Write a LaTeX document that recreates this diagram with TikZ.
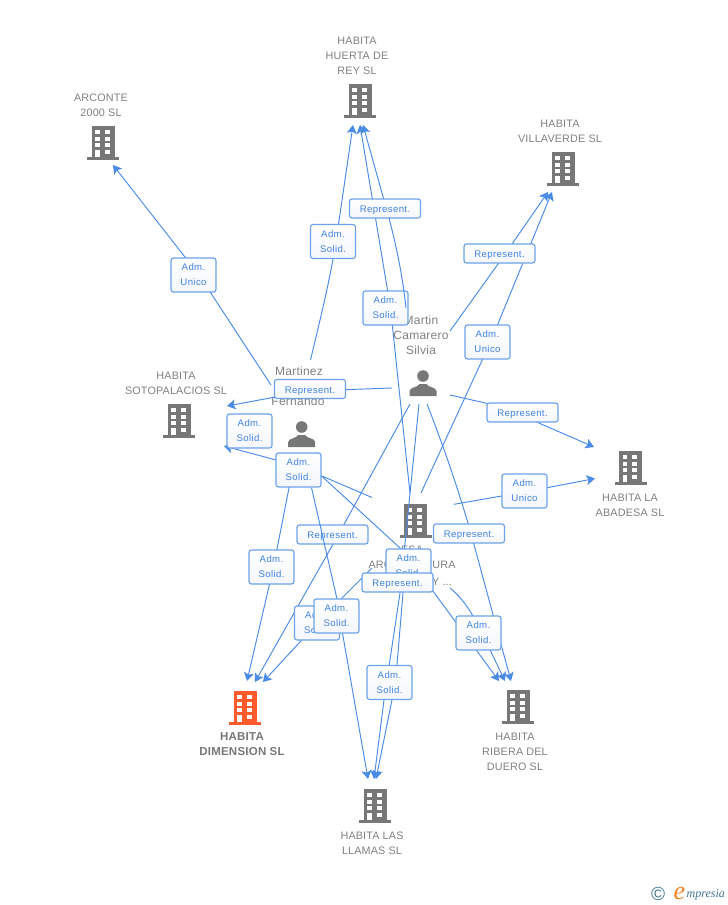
\documentclass[tikz,border=0pt]{standalone}
\usepackage{fontspec}
\usetikzlibrary{arrows.meta}
\setmainfont{Liberation Sans}
\newfontfamily\grf[LetterSpace=1.5]{Liberation Sans}
\newfontfamily\perf[LetterSpace=2]{Liberation Sans}
\newfontfamily\boldf[LetterSpace=2]{Liberation Sans Bold}
\newfontfamily\labf[LetterSpace=4]{Liberation Sans}
\newfontfamily\logof{Liberation Serif Italic}
\definecolor{iconc}{HTML}{777777}
\definecolor{iconhot}{HTML}{FF5A2B}
\definecolor{txtc}{HTML}{808080}
\definecolor{linec}{HTML}{4A8BE6}
\definecolor{boxc}{HTML}{6CA2EA}
\definecolor{boxb}{HTML}{F4F6FA}
\definecolor{labt}{HTML}{3F82E2}
\definecolor{logoc}{HTML}{3F7590}
\definecolor{logoo}{HTML}{F58220}
\pgfdeclarelayer{bg}\pgfdeclarelayer{conn}\pgfdeclarelayer{kline}\pgfdeclarelayer{upper}
\pgfsetlayers{bg,conn,main,kline,upper}
\tikzset{
  x=1pt,y=-1pt,
  pics/building/.style={code={
    \fill[#1] (-11.5,0) rectangle (11.5,31);
    \fill[#1] (-16,31) rectangle (16,33.8);
    \foreach \yy/\hh in {4/4.3,10.7/4.3,17.3/4,24/4}{
      \fill[white] (1.8,\yy) rectangle ++(5,\hh);}
    \foreach \yy/\hh in {4/4.3,10.7/4.3,17.3/4,24/7}{
      \fill[white] (-7.8,\yy) rectangle ++(4.6,\hh);}
  }},
  pics/person/.style={code={
    \fill[iconc] (0,0) circle[radius=5.8];
    \fill[iconc] (-13.5,20) -- (-13.5,15) .. controls (-13,11) and (-5,11.5) .. (-3.5,8)
      -- (3.5,8) .. controls (5,11.5) and (13,11) .. (13.5,15) -- (13.5,20) -- cycle;
  }},
  conn/.style={draw=linec,line width=0.95pt},
  arr/.style={conn,-{Stealth[length=8.5pt,width=10pt,inset=2pt]}},
  lab/.style={draw=boxc,line width=1.2pt,rounded corners=2.5pt,top color=white,bottom color=boxb,
    text=labt,inner sep=0pt,font=\labf\fontsize{9.6}{15}\selectfont,align=center},
  adm/.style={lab,minimum width=45pt,minimum height=34pt},
  rep/.style={lab,minimum width=71pt,minimum height=19pt,text height=8pt,text depth=0pt},
  gtxt/.style={text=txtc,inner sep=0pt,font=\grf\fontsize{10.8}{15}\selectfont,align=center},
  ptxt/.style={text=txtc,inner sep=0pt,font=\perf\fontsize{12}{15}\selectfont,align=center},
}
\begin{document}
\begin{tikzpicture}
\useasboundingbox (0,0) rectangle (728,905);

% icons and names
\begin{pgfonlayer}{bg}
\pic at (245,691) {building=iconhot};
\pic at (103,126) {building=iconc};
\pic at (360,84) {building=iconc};
\pic at (563,152) {building=iconc};
\pic at (179,404) {building=iconc};
\pic at (630.5,451) {building=iconc};
\pic at (415.5,504) {building=iconc};
\pic at (518,690) {building=iconc};
\pic at (375,789) {building=iconc};
\pic at (423,376) {person};
\pic at (301.7,427) {person};
\node[gtxt] (tarc) at (101,105.3) {ARCONTE\\2000 SL};
\node[gtxt] (thue) at (357,55.8) {HABITA\\HUERTA DE\\REY SL};
\node[gtxt] (tvil) at (560,131.3) {HABITA\\VILLAVERDE SL};
\node[gtxt] (tsot) at (176,383.3) {HABITA\\SOTOPALACIOS SL};
\node[gtxt] (taba) at (630,505.3) {HABITA LA\\ABADESA SL};
\node[gtxt] (trib) at (515,751.8) {HABITA\\RIBERA DEL\\DUERO SL};
\node[gtxt] (tlla) at (372,843.3) {HABITA LAS\\LLAMAS SL};
\node[text=iconc,inner sep=0pt,font=\boldf\fontsize{11.5}{15}\selectfont,align=center] (tdim) at (242,744) {HABITA\\DIMENSION SL};
\node[ptxt] (tmar) at (299,371) {Martinez};
\node[ptxt] (tfer) at (298,401) {Fernando};
\node[ptxt] (tsil) at (421,335) {Martin\\Camarero\\Silvia};
\node[gtxt] (tesa) at (412,558) {ESA\\ARQUITECTURA};
\node[gtxt] (tesb) at (442,581.5) {Y ...};
\end{pgfonlayer}

% free ends and arrow tips
\coordinate (aA) at (271,385);  \coordinate (tA) at (113,165);
\coordinate (aB) at (310.5,360);\coordinate (tB) at (353,125);
\coordinate (aC) at (410,493);  \coordinate (tC) at (360,125);
\coordinate (aD) at (406,308);  \coordinate (tD) at (363,125);
\coordinate (aE) at (450,331);  \coordinate (tE) at (548,192);
\coordinate (aF) at (421,493);  \coordinate (tF) at (552,192);
\coordinate (aG) at (392,388);  \coordinate (tG) at (227,406);
\coordinate (aH) at (372,497.5);\coordinate (tH) at (224,446);
\coordinate (tI) at (499,681);
\coordinate (tJ) at (247,681);
\coordinate (tK) at (368,779);
\coordinate (aL) at (410,404);  \coordinate (tL) at (255,682);
\coordinate (aM) at (372,568);  \coordinate (tM) at (263,682);
\coordinate (aN) at (419,404);  \coordinate (tN) at (374,779);
\coordinate (aO) at (405,556);  \coordinate (tO) at (376,779);
\coordinate (aP) at (427,404);  \coordinate (tP) at (511,681);
\coordinate (aQ) at (450,588);  \coordinate (tQ) at (505,681);
\coordinate (aR) at (450,395);  \coordinate (tR) at (594,447);
\coordinate (aS) at (454,504.3);\coordinate (tS) at (595,478.5);
\coordinate (kK) at (337,599);

% relation labels
\node[adm] (l1) at (193.5,275) {Adm.\\Unico};
\node[adm] (l2) at (333,241.5) {Adm.\\Solid.};
\node[rep] (l3) at (385,208.5) {Represent.};
\node[adm] (l4) at (385.5,308) {Adm.\\Solid.};
\node[rep] (l5) at (499.5,253.5) {Represent.};
\node[adm] (l6) at (487.5,342) {Adm.\\Unico};
\node[rep] (l7) at (310,389) {Represent.};
\node[adm] (l8) at (249.5,431) {Adm.\\Solid.};
\node[rep] (l9) at (522.5,412.5) {Represent.};
\node[adm] (l10) at (298.5,470) {Adm.\\Solid.};
\node[adm] (l11) at (524.5,491) {Adm.\\Unico};
\node[rep] (l12) at (469,533.5) {Represent.};
\node[rep] (l13) at (332.5,534.5) {Represent.};
\node[adm] (l14) at (271.5,567) {Adm.\\Solid.};
\node[adm] (l15) at (408.5,566) {Adm.\\Solid.};
\node[rep] (l16) at (397.5,582.5) {Represent.};
\node[adm] (l17) at (317,623) {Adm.\\Solid.};
\node[adm] (l19) at (478.5,633) {Adm.\\Solid.};
\node[adm] (l20) at (389.5,682.5) {Adm.\\Solid.};
\begin{pgfonlayer}{upper}
\node[adm] (l18) at (336.5,616) {Adm.\\Solid.};
\end{pgfonlayer}

% connectors
\begin{pgfonlayer}{conn}
\draw[arr] (aA) -- ([xshift=5.5pt]l1.center) -- (tA);
\draw[arr] (aB) .. controls (320,320) and (330,280) .. ([xshift=3pt]l2.center) -- (tB);
\draw[arr] (aC) -- ([xshift=5pt]l4.center) -- (tC);
\draw[arr] (aE) -- ([xshift=6pt]l5.center) -- (tE);
\draw[arr] (aF) -- ([xshift=3pt]l6.center) -- (tF);
\draw[arr] (aG) -- ([xshift=-2pt,yshift=-2pt]l7.center) -- (tG);
\draw[arr] (aH) -- ([yshift=4pt]l10.center) -- (tH);
\draw[arr] ([xshift=10pt,yshift=6pt]l10.center) -- (400,548) -- ([xshift=35pt,yshift=-8pt]l16.center) -- (tI);
\draw[arr] ([xshift=-6pt]l10.center) -- ([xshift=2pt]l14.center) -- (tJ);
\draw[arr] (aL) -- ([xshift=6pt]l13.center) -- (tL);
\draw[arr] (aM) -- ([xshift=5pt,yshift=5pt]l17.center) -- (tM);
\draw[arr] (aN) -- (400,593) -- (384,700) -- (tN);
\draw[arr] (aO) -- (403,593) -- ([xshift=6pt]l20.center) -- (tO);
\draw[arr] (aP) .. controls (445,450) and (460,495) .. ([xshift=2pt]l12.center) -- (tP);
\draw[arr] (aQ) .. controls (460,596) and (468,606) .. ([yshift=7pt]l19.center) -- (tQ);
\draw[arr] (aR) -- ([xshift=-35pt,yshift=9pt]l9.center) -- ([xshift=14pt,yshift=-9.5pt]l9.center) -- (tR);
\draw[arr] (aS) -- ([yshift=-1pt]l11.center) -- (tS);
\draw[arr] ([xshift=4pt,yshift=-9.5pt]l3.center) -- (tD);
\draw[arr] (kK) -- ([xshift=3pt]l18.center) -- (tK);
\end{pgfonlayer}
\begin{pgfonlayer}{kline}
\draw[conn] (aD) .. controls (402,272) and (396,245) .. ([xshift=4pt,yshift=-9.5pt]l3.center);
\draw[conn] ([xshift=13pt]l10.south) -- (kK);
\end{pgfonlayer}

% logo
\node[text=logoc,inner sep=0pt,font=\fontsize{19}{19}\selectfont] (lc) at (658,894) {©};
\node[text=logoo,inner sep=0pt,font=\logof\fontsize{26}{26}\selectfont] (le) at (679.5,893) {e};
\node[text=logoc,inner sep=0pt,anchor=west,font=\logof\fontsize{12}{15}\selectfont] (lm) at (686.5,895) {mpresia};
\end{tikzpicture}
\end{document}
